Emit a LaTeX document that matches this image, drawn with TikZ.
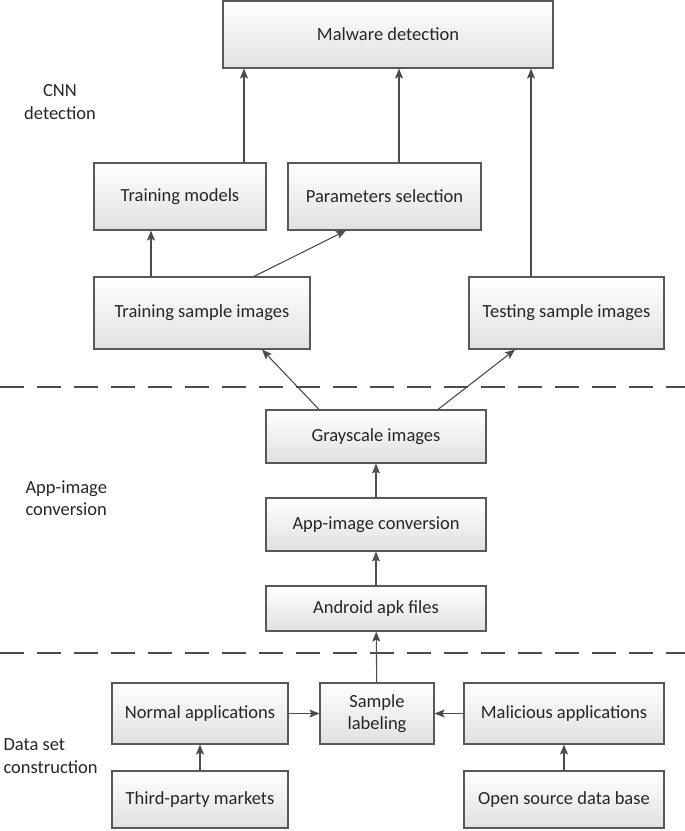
\documentclass[tikz,border=0pt]{standalone}
\usepackage{fontspec}
\setmainfont{Carlito}
\usetikzlibrary{arrows.meta}

\begin{document}
\begin{tikzpicture}
   [x=1pt,y=-1pt,
    every node/.style={font=\fontsize{18.5}{22.5}\selectfont, text=black!85},
    box/.style={draw=black!65, line width=1.1pt, top color=white, bottom color=black!12,
           align=center, inner sep=0pt},
    arr/.style={draw=black!70, line width=1.1pt, -{Stealth[length=10pt,width=8pt,inset=2pt]}},
    sep/.style={draw=black!70, line width=1.5pt, dash pattern=on 24pt off 13pt},]
\useasboundingbox (0,0) rectangle (685,831);

% CNN detection
\node[box, minimum width=330, minimum height=67] (malware) at (388,34.5) {Malware detection};
\node[box, minimum width=172, minimum height=67] (trainmod) at (180,196.5) {Training models};
\node[box, minimum width=193, minimum height=67] (params) at (384.5,196.5) {Parameters selection};
\node[box, minimum width=216, minimum height=72] (trainimg) at (202,313) {Training sample images};
\node[box, minimum width=195, minimum height=72] (testimg) at (566.5,313) {Testing sample images};
\node[align=center] (cnnlab) at (60,102) {CNN\\detection};

% App-image conversion
\node[box, minimum width=220, minimum height=53] (gray) at (376,436.5) {Grayscale images};
\node[box, minimum width=220, minimum height=53] (conv) at (376,524.5) {App-image conversion};
\node[box, minimum width=220, minimum height=45] (apk) at (376,608.5) {Android apk files};
\node[align=left, anchor=west] (convlab) at (22,498) {App-image\\conversion};

% Data set construction
\node[box, minimum width=176, minimum height=61] (normal) at (200,713.5) {Normal applications};
\node[box, minimum width=114, minimum height=61] (labeling) at (377,713.5) {Sample\\labeling};
\node[box, minimum width=200, minimum height=61] (malicious) at (564,713.5) {Malicious applications};
\node[box, minimum width=176, minimum height=57] (third) at (200,799.5) {Third-party markets};
\node[box, minimum width=200, minimum height=57] (opensrc) at (564,799.5) {Open source data base};
\node[align=left, anchor=west] (datalab) at (0,756) {Data set\\construction};

\draw[sep] (0,387) -- (685,387);
\draw[sep] (0,653) -- (685,653);

\draw[arr] (third) -- (normal);
\draw[arr] (opensrc) -- (malicious);
\draw[arr] (normal) -- (labeling);
\draw[arr] (malicious) -- (labeling);
\draw[arr] (labeling) -- (apk);
\draw[arr] (apk) -- (conv);
\draw[arr] (conv) -- (gray);
\draw[arr] ([xshift=-57]gray.north) -- ([xshift=60]trainimg.south);
\draw[arr] ([xshift=62]gray.north) -- ([xshift=-51.5]testimg.south);
\draw[arr] ([xshift=-51]trainimg.north) -- ([xshift=-29]trainmod.south);
\draw[arr] ([xshift=52]trainimg.north) -- ([xshift=-38.5]params.south);
\draw[arr] ([xshift=64]trainmod.north) -- ([xshift=64]trainmod.north |- malware.south);
\draw[arr] ([xshift=14.5]params.north) -- ([xshift=14.5]params.north |- malware.south);
\draw[arr] ([xshift=-35.5]testimg.north) -- ([xshift=-35.5]testimg.north |- malware.south);
\end{tikzpicture}
\end{document}
